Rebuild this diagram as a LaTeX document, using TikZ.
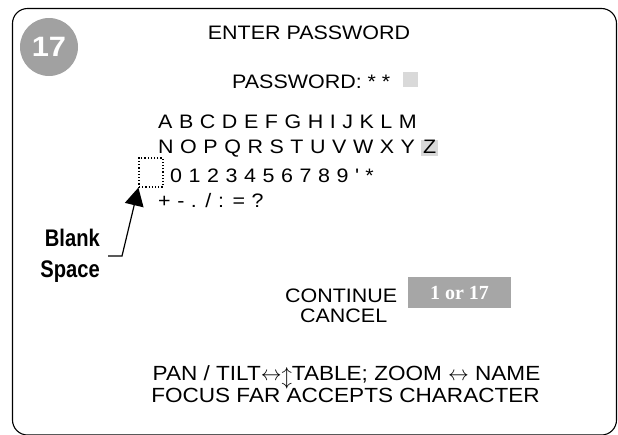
\documentclass[tikz,border=0pt]{standalone}
\usepackage{fontspec}
\setmainfont{Liberation Sans}[FakeStretch=1.1]
\newfontfamily\keysfont{Liberation Sans}[FakeStretch=1.1, WordSpace=1.1]
\newfontfamily\calloutfont{Liberation Sans Bold}[FakeStretch=0.84]
\newfontfamily\keyfont{Liberation Serif Bold}
\usetikzlibrary{arrows.meta}
\tikzset{
  txt/.style={inner sep=0pt, anchor=base west, font=\fontsize{19.5}{23}\selectfont},
  keys/.style={txt, font=\keysfont\fontsize{19.5}{23}\selectfont},
  helptxt/.style={txt, anchor=base, font=\fontsize{20.5}{24}\selectfont},
  hilite/.style={fill=black!15, inner sep=0pt},
  callout/.style={inner sep=0pt, anchor=base east, font=\calloutfont\fontsize{24}{28}\selectfont},
}
\begin{document}
\begin{tikzpicture}[x=1pt,y=-1pt]
\useasboundingbox (0,0) rectangle (618,434);
% screen frame
\draw[line width=1.1pt, rounded corners=15pt] (12.5,8.5) rectangle (616.5,435);
\node[circle, fill=black!37, minimum size=58pt, inner sep=0pt, text=white, font=\bfseries\fontsize{28}{28}\selectfont] (badge) at (49,47) {17};

\node[txt, anchor=base] (title) at (309,39) {ENTER PASSWORD};
\node[txt] (pwd) at (232,88) {PASSWORD: * *};
\node[hilite, minimum width=15pt, minimum height=15pt] (cursor) at (410.5,79.5) {};

% character table
\node[keys] (rowA) at (158,128) {A B C D E F G H I J K L M};
\node[keys] (rowN) at (158,153) {N O P Q R S T U V W X Y};
\node[keys, hilite, inner xsep=2pt, text depth=3pt] (zkey) at (421,153) {Z};
\node[draw, dotted, line width=1.2pt, minimum width=24pt, minimum height=29pt, inner sep=0pt] (blank) at (151,172.5) {};
\node[keys] (rowD) at (170,182) {0 1 2 3 4 5 6 7 8 9 \textquotesingle{} *};
\node[keys] (rowP) at (158,207) {+ - . / : = ?};

% callout
\node[callout] (blankword) at (100,246) {Blank};
\node[callout] (spaceword) at (100,277) {Space};
\coordinate (tail) at (108,256);
\draw[line width=1.2pt, -{Triangle[length=18pt,width=19pt]}] (tail) -- ++(14,0) -- (blank.south west);

\node[txt] (cont) at (285,302) {CONTINUE};
\node[txt] (cancel) at (300,322) {CANCEL};
\node[fill=black!35, minimum width=103pt, minimum height=31pt, inner sep=0pt, text=white, font=\keyfont\fontsize{20}{20}\selectfont] (key) at (459.5,292.5) {1 or 17};

\node[helptxt] (help) at (346.5,380) {PAN / TILT$\mathord{\leftrightarrow}$\raisebox{-3pt}{$\Big\updownarrow$}TABLE; ZOOM $\leftrightarrow$ NAME};
\node[helptxt] (help2) at (345.5,402) {FOCUS FAR ACCEPTS CHARACTER};
\end{tikzpicture}
\end{document}
